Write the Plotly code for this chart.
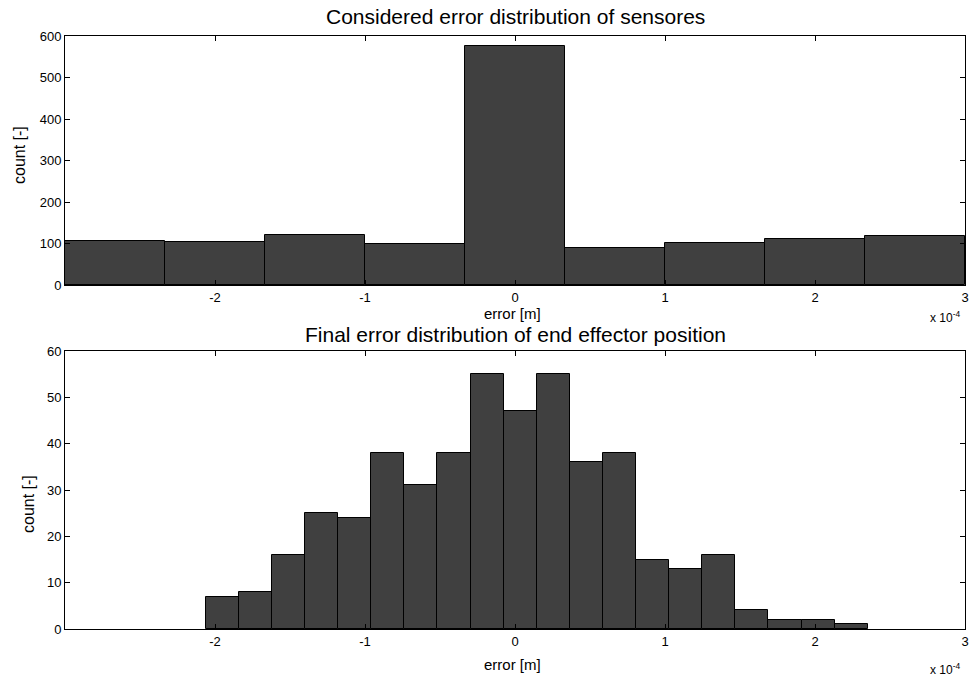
import plotly.graph_objects as go

# Top histogram: 9 bins from -3e-4 to 3e-4 (x in units of 1e-4 m)
top_edges_start = -3.0
top_bin_width = 2.0 / 3.0
top_counts = [106, 103, 120, 100, 577, 88, 102, 111, 119]

# Bottom histogram: 20 bins
bot_edges_start = -2.062
bot_bin_width = 0.2207
bot_counts = [7, 8, 16, 25, 24, 38, 31, 38, 55, 47, 55, 36, 38, 15, 13, 16, 4, 2, 2, 1]

x_ticks = [-2, -1, 0, 1, 2, 3]
x_tick_text = ["-2", "-1", "0", "1", "2", "3"]
top_y_ticks = [0, 100, 200, 300, 400, 500, 600]
bot_y_ticks = [0, 10, 20, 30, 40, 50, 60]

top_centers = [top_edges_start + top_bin_width * (i + 0.5) for i in range(len(top_counts))]
bot_centers = [bot_edges_start + bot_bin_width * (i + 0.5) for i in range(len(bot_counts))]

W, H = 970, 677
L, R = 65, 5
FONT = "Liberation Sans, Arial, sans-serif"

fig = go.Figure()
fig.add_trace(go.Bar(x=top_centers, y=top_counts, width=[top_bin_width] * len(top_counts),
                     marker=dict(color="#404040", line=dict(color="black", width=1)),
                     xaxis="x", yaxis="y", showlegend=False))
fig.add_trace(go.Bar(x=bot_centers, y=bot_counts, width=[bot_bin_width] * len(bot_counts),
                     marker=dict(color="#404040", line=dict(color="black", width=1)),
                     xaxis="x2", yaxis="y2", showlegend=False))

def py(p):
    return 1 - p / H

axis_common = dict(showline=True, linecolor="black", linewidth=1, mirror="allticks",
                   ticks="inside", ticklen=5, tickcolor="black", showgrid=False, zeroline=False,
                   automargin=False,
                   tickfont=dict(family=FONT, size=13, color="black"))

fig.update_layout(
    width=W, height=H,
    margin=dict(l=L, r=R, t=0, b=0, autoexpand=False),
    paper_bgcolor="white", plot_bgcolor="white",
    bargap=0,
    xaxis=dict(domain=[0, 1], range=[-3, 3], tickvals=x_ticks, ticktext=x_tick_text, anchor="y", **axis_common),
    yaxis=dict(domain=[py(285), py(36)], range=[0, 600], tickvals=top_y_ticks, anchor="x", **axis_common),
    xaxis2=dict(domain=[0, 1], range=[-3, 3], tickvals=x_ticks, ticktext=x_tick_text, anchor="y2", **axis_common),
    yaxis2=dict(domain=[py(629), py(351)], range=[0, 60], tickvals=bot_y_ticks, anchor="x2", **axis_common),
)

def ann_px(text, xpx, ypx, size=12, angle=0, xanchor="center", yanchor="middle"):
    fig.add_annotation(text=text, x=(xpx - L) / (W - L - R), y=(H - ypx) / H, xref="paper", yref="paper",
                       showarrow=False, textangle=angle, xanchor=xanchor, yanchor=yanchor,
                       font=dict(family=FONT, size=size, color="black"))

ann_px("Considered error distribution of sensores", 515, 17, size=21)
ann_px("Final error distribution of end effector position", 515, 334, size=21)
ann_px("error [m]", 512, 313, size=15)
ann_px("error [m]", 512, 664, size=15)
ann_px("count [-]", 19, 155, size=16, angle=-90)
ann_px("count [-]", 28, 504, size=16, angle=-90)
ann_px("x 10<sup>-4</sup>", 962, 317, size=12, xanchor="right")
ann_px("x 10<sup>-4</sup>", 962, 669, size=12, xanchor="right")

fig.write_html("out.html")
